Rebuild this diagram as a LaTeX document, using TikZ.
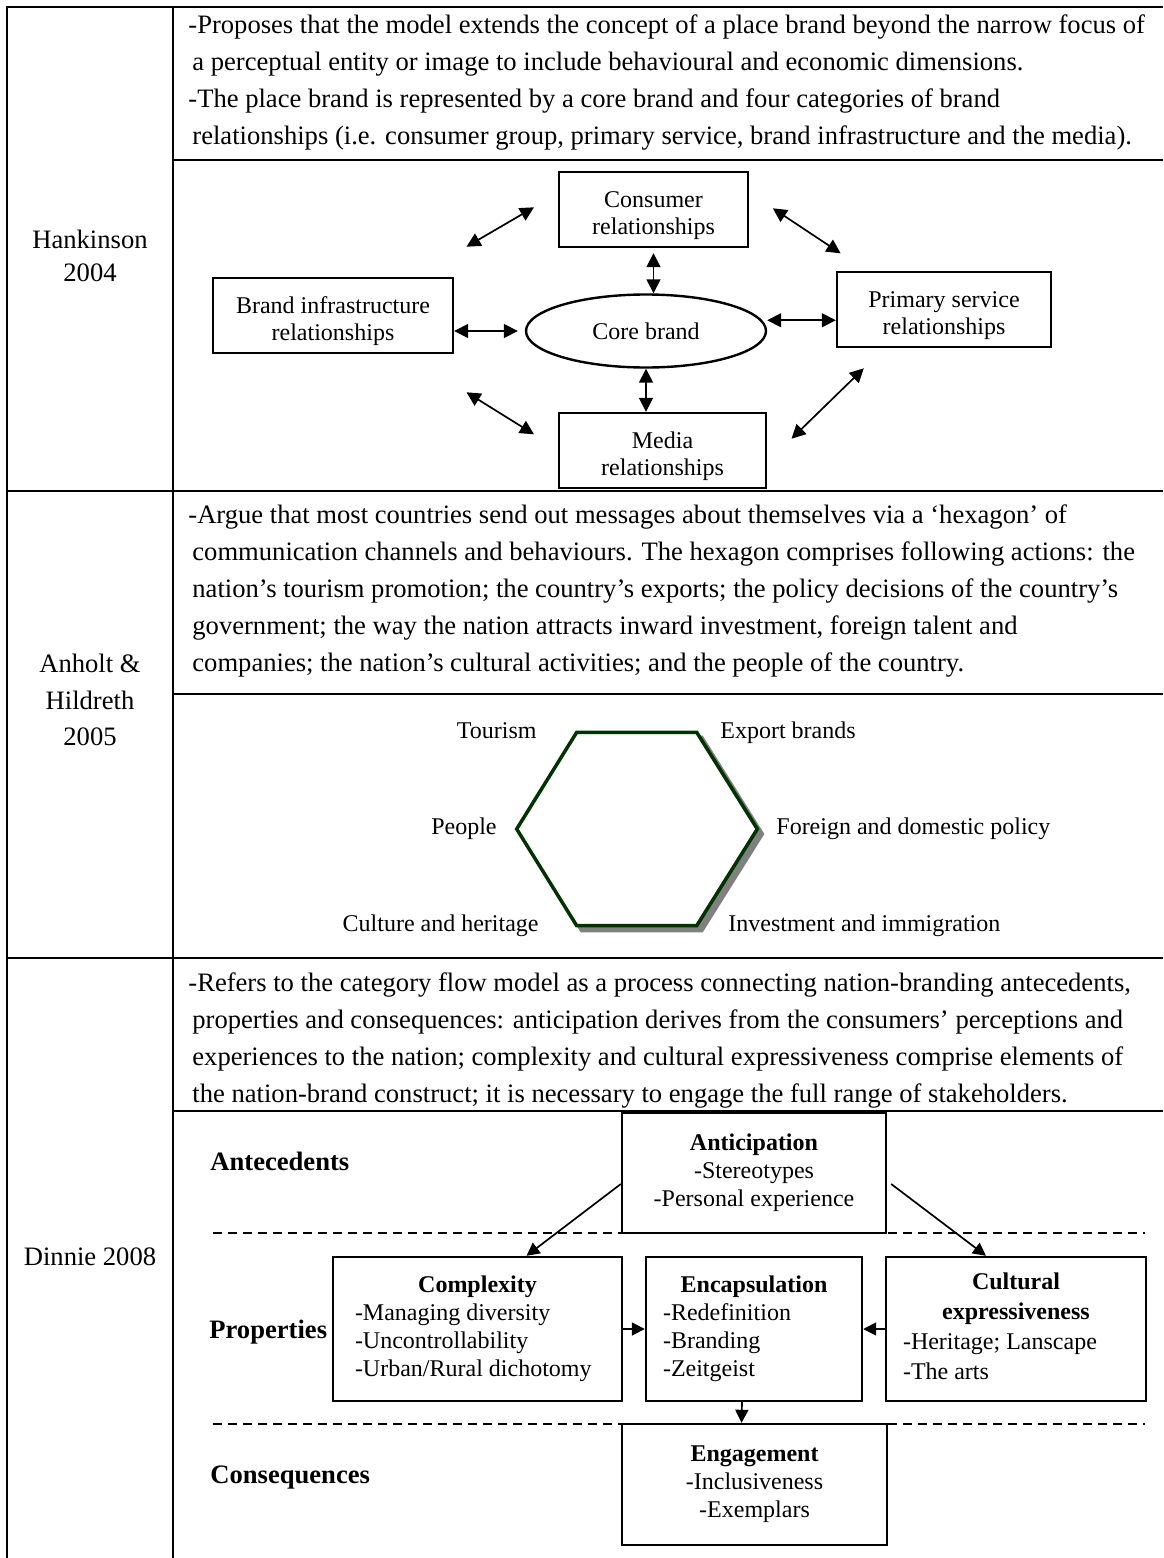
\documentclass[tikz,border=0pt]{standalone}
\usepackage{fontspec}
\setmainfont{Liberation Serif}
\usetikzlibrary{arrows.meta,calc,shapes.geometric}
\definecolor{hexgreen}{RGB}{0,51,0}
\definecolor{shadowgray}{RGB}{128,128,128}
\newcommand{\hklines}[1]{\raisebox{-3pt}[\height][\depth]{\begin{tabular}{@{}c@{}}#1\end{tabular}}}
\begin{document}
\begin{tikzpicture}[x=0.5pt,y=-0.5pt,
  tline/.style={line width=1.1pt},
  txt/.style={anchor=west, inner sep=0pt, font=\fontsize{13.3pt}{16pt}\selectfont, text height=9pt, text depth=2.8pt},
  lab/.style={inner sep=0pt, align=center, font=\fontsize{13.3pt}{16.5pt}\selectfont},
  labb/.style={inner sep=0pt, align=center, font=\fontsize{13.3pt}{18.25pt}\selectfont},
  lbl/.style={inner sep=0pt, font=\fontsize{12pt}{14pt}\selectfont, text height=8pt, text depth=2.5pt},
  bl/.style={inner sep=0pt, anchor=west, font=\fontsize{13.3pt}{16pt}\selectfont\bfseries, text height=9pt, text depth=2.8pt},
  box/.style={draw, line width=1.2pt, rectangle, inner sep=0pt, align=center, fill=white, font=\fontsize{12pt}{13.5pt}\selectfont},
  dbox/.style={draw, line width=1.2pt, rectangle, inner sep=0pt, fill=white, font=\fontsize{12pt}{14pt}\selectfont},
  dbl/.style={line width=0.85pt, {Triangle[length=7pt,width=7pt]}-{Triangle[length=7pt,width=7pt]}},
  sgl/.style={line width=0.85pt, -{Triangle[length=6.5pt,width=6.5pt]}},
  dline/.style={line width=1pt, dash pattern=on 4.5pt off 3pt}]
\path[use as bounding box] (0,0) rectangle (1163,1558);

% table rules
\draw[tline] (7,1558) -- (7,7) -- (1163,7);
\draw[tline] (173,7) -- (173,1558);
\draw[tline] (173,160) -- (1163,160);
\draw[tline] (7,491) -- (1163,491);
\draw[tline] (173,694) -- (1163,694);
\draw[tline] (7,958) -- (1163,958);
\draw[tline] (173,1111) -- (1163,1111);

% left column
\node[lab] (hk) at (90,256) {Hankinson\\2004};
\node[labb] (ah) at (90,700) {Anholt \&\\Hildreth\\2005};
\node[lab] (dn) at (90,1257) {Dinnie 2008};

% Hankinson text
\node[txt] (hk1) at (188,27) {-Proposes that the model extends the concept of a place brand beyond the narrow focus of};
\node[txt] (hk2) at (192,64) {a perceptual entity or image to include behavioural and economic dimensions.};
\node[txt] (hk3) at (188,101) {-The place brand is represented by a core brand and four categories of brand};
\node[txt] (hk4) at (192,138) {relationships (i.e. consumer group, primary service, brand infrastructure and the media).};

% Hankinson diagram
\node[box, minimum width=94.5pt, minimum height=37.5pt] (consumer) at (653.5,209.5) {\hklines{Consumer\\relationships}};
\node[box, minimum width=120pt, minimum height=37.5pt] (brandinf) at (333,315.5) {\hklines{Brand infrastructure\\relationships}};
\node[box, ellipse, minimum width=120pt, minimum height=36.5pt] (core) at (646,331) {Core brand};
\node[box, minimum width=107pt, minimum height=37.5pt] (primary) at (944,309.5) {\hklines{Primary service\\relationships}};
\node[box, minimum width=103.5pt, minimum height=37.5pt] (media) at (662.5,450.5) {\hklines{Media\\relationships}};

\draw[dbl] ([yshift=-2.5pt]consumer.south) -- (core.north -| consumer.south);
\draw[dbl] (core.south) -- (core.south |- media.north);
\draw[dbl] (brandinf.east |- core.west) -- ([xshift=-3.5pt]core.west);
\draw[dbl] let \p1=($(core.east)!0.5!(primary.west)$) in (core.east |- \p1) -- (primary.west |- \p1);

\coordinate (d1a) at (466.5,246.7);
\coordinate (d1b) at (534,207.3);
\coordinate (d2a) at (772.8,208.3);
\coordinate (d2b) at (840.6,253.3);
\coordinate (d3a) at (466.5,392.3);
\coordinate (d3b) at (534,434.3);
\coordinate (d4a) at (791.5,438.7);
\coordinate (d4b) at (863.8,368.3);
\draw[dbl] (d1a) -- (d1b);
\draw[dbl] (d2a) -- (d2b);
\draw[dbl] (d3a) -- (d3b);
\draw[dbl] (d4a) -- (d4b);

% Anholt text
\node[txt] (ah1) at (188,517) {-Argue that most countries send out messages about themselves via a ‘hexagon’ of};
\node[txt] (ah2) at (192,554) {communication channels and behaviours. The hexagon comprises following actions: the};
\node[txt] (ah3) at (192,591) {nation’s tourism promotion; the country’s exports; the policy decisions of the country’s};
\node[txt] (ah4) at (192,628) {government; the way the nation attracts inward investment, foreign talent and};
\node[txt] (ah5) at (192,665) {companies; the nation’s cultural activities; and the people of the country.};

% hexagon
\begin{scope}[shift={(5,5)}]
\draw[shadowgray, line width=1.75pt, fill=shadowgray] (576.7,732.3) -- (696.7,732.3) -- (757.3,829) -- (696.7,925.7) -- (576.7,925.7) -- (516.7,829) -- cycle;
\end{scope}
\draw[hexgreen, line width=1.75pt, fill=white] (576.7,732.3) -- (696.7,732.3) -- (757.3,829) -- (696.7,925.7) -- (576.7,925.7) -- (516.7,829) -- cycle;

\node[lbl, anchor=east] (tour) at (537,733) {Tourism};
\node[lbl, anchor=west] (expo) at (720,733) {Export brands};
\node[lbl, anchor=east] (peop) at (497,829) {People};
\node[lbl, anchor=west] (fore) at (776,829) {Foreign and domestic policy};
\node[lbl, anchor=east] (cult) at (539,926) {Culture and heritage};
\node[lbl, anchor=west] (inve) at (728,926) {Investment and immigration};

% Dinnie text
\node[txt] (dn1) at (188,985) {-Refers to the category flow model as a process connecting nation-branding antecedents,};
\node[txt] (dn2) at (192,1022) {properties and consequences: anticipation derives from the consumers’ perceptions and};
\node[txt] (dn3) at (192,1059) {experiences to the nation; complexity and cultural expressiveness comprise elements of};
\node[txt] (dn4) at (192,1096) {the nation-brand construct; it is necessary to engage the full range of stakeholders.};

% Dinnie diagram
\draw[dline] (213,1233) -- (1145,1233);
\draw[dline] (213,1424) -- (1145,1424);

\node[bl] (antec) at (210,1164) {Antecedents};
\node[bl] (props) at (209,1332) {Properties};
\node[bl] (conse) at (210,1477) {Consequences};

\node[dbox, minimum width=132pt, minimum height=60pt, align=center] (antic) at (754,1173) {\textbf{Anticipation}\\-Stereotypes\\-Personal experience};
\node[dbox, minimum width=144.5pt, minimum height=72pt] (complex) at (477.5,1329) {\begin{tabular}{@{}p{122.5pt}@{}}\multicolumn{1}{@{}c@{}}{\textbf{Complexity}}\\-Managing diversity\\-Uncontrollability\\-Urban/Rural dichotomy\end{tabular}};
\node[dbox, minimum width=108pt, minimum height=72pt] (encap) at (754,1329) {\begin{tabular}{@{}p{91pt}@{}}\multicolumn{1}{@{}c@{}}{\textbf{Encapsulation}}\\-Redefinition\\-Branding\\-Zeitgeist\end{tabular}};
\node[dbox, minimum width=130pt, minimum height=72pt] (cultural) at (1016,1329) {\begin{tabular}{@{}p{113pt}@{}}\multicolumn{1}{@{}c@{}}{\textbf{Cultural}}\\[1pt]\multicolumn{1}{@{}c@{}}{\textbf{expressiveness}}\\[1pt]-Heritage; Lanscape\\[1pt]-The arts\end{tabular}};
\node[dbox, minimum width=132.5pt, minimum height=60.5pt, align=center] (engage) at (754.5,1484.5) {\textbf{Engagement}\\-Inclusiveness\\-Exemplars};

\draw[sgl] ([yshift=-5.5pt]antic.west) -- ([xshift=24.5pt]complex.north);
\draw[sgl] ([xshift=2pt,yshift=-5.5pt]antic.east) -- ([xshift=-15pt]cultural.north);
\draw[sgl] (complex.east) -- (encap.west);
\draw[sgl] (cultural.west) -- (encap.east);
\draw[sgl] ([xshift=-6pt]encap.south) -- ([xshift=-6.5pt]engage.north);
\end{tikzpicture}
\end{document}
